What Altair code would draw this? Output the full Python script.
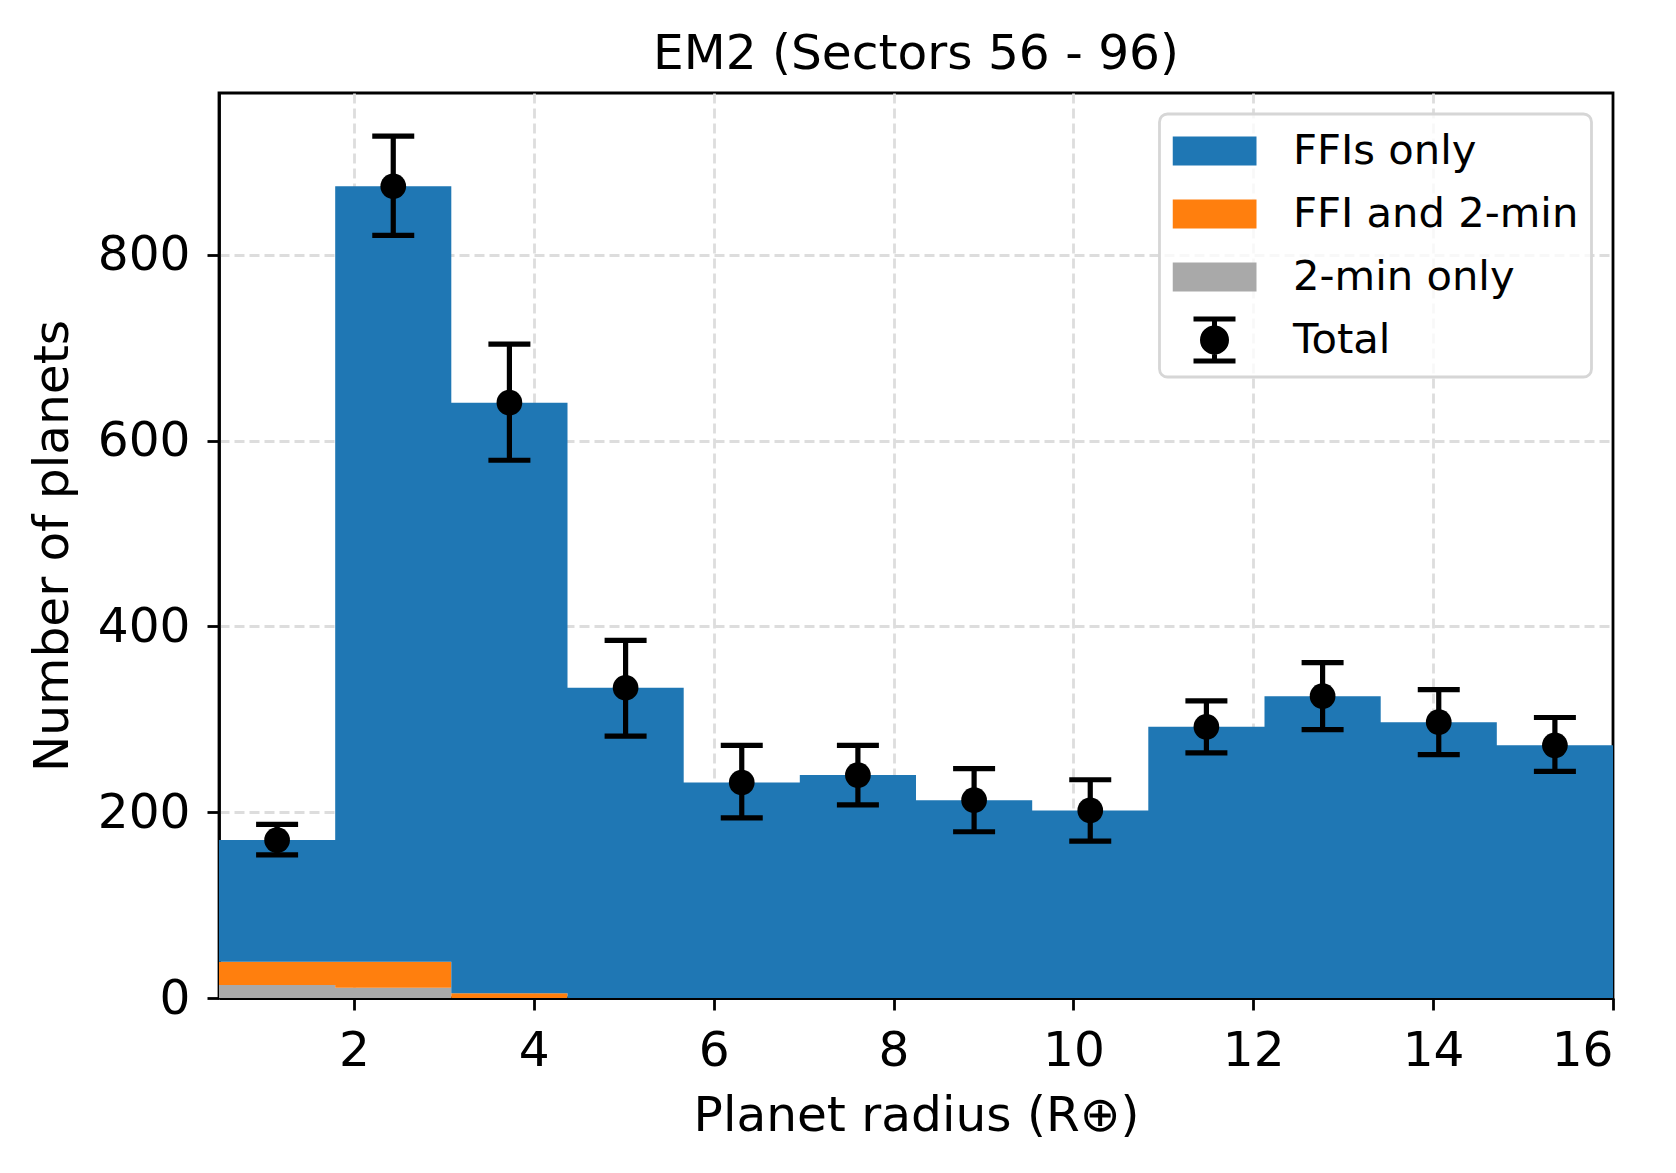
import altair as alt
import pandas as pd

# ---- data ----
bin_lo = [0.5, 1.792, 3.083, 4.375, 5.667, 6.958, 8.25, 9.542, 10.833, 12.125, 13.417, 14.708]
bin_hi = [1.792, 3.083, 4.375, 5.667, 6.958, 8.25, 9.542, 10.833, 12.125, 13.417, 14.708, 16.0]

ffi_only = [131, 835, 636, 334, 232, 240, 213, 202, 292, 325, 297, 272]
ffi_and_2min = [25, 28, 5, 0, 0, 0, 0, 0, 0, 0, 0, 0]
two_min_only = [14, 11, 0, 0, 0, 0, 0, 0, 0, 0, 0, 0]

err_up = [17, 54, 63, 51, 40, 32, 34, 33, 28, 36, 35, 30]
err_dn = [16, 53, 62, 52, 38, 32, 34, 33, 28, 36, 35, 28]

series_names = ["FFIs only", "FFI and 2-min", "2-min only", "Total"]
series_colors = ["#1f77b4", "#ff7f0e", "#a9a9a9", "#000000"]
x_ticks = [2, 4, 6, 8, 10, 12, 14, 16]
y_ticks = [0, 200, 400, 600, 800]

# ---- tables ----
# step outline: one row per bin edge (the final edge repeats the last bin's value)
edges = bin_lo + [bin_hi[-1]]
rows = []
for i in range(len(edges)):
    j = min(i, len(bin_lo) - 1)
    for name, vals, order in [("2-min only", two_min_only, 0),
                              ("FFI and 2-min", ffi_and_2min, 1),
                              ("FFIs only", ffi_only, 2)]:
        rows.append({"edge": edges[i], "series": name, "n": vals[j], "ord": order})
hist_df = pd.DataFrame(rows)

pts = []
for i in range(len(bin_lo)):
    tot = ffi_only[i] + ffi_and_2min[i] + two_min_only[i]
    pts.append({"x": (bin_lo[i] + bin_hi[i]) / 2, "total": tot,
                "low": tot - err_dn[i], "high": tot + err_up[i], "series": "Total"})
pts_df = pd.DataFrame(pts)

FONT = "DejaVu Sans"
FS = 48.6
LFS = 41.7

xscale = alt.Scale(domain=[0.5, 16], nice=False, zero=False)
yscale = alt.Scale(domain=[0, 974.4], nice=False, zero=False)

x_axis = alt.Axis(values=x_ticks, format="d", title="Planet radius (R⊕)",
                  labelPadding=17, titlePadding=18,
                  gridColor=alt.condition("datum.value >= 16", alt.value("transparent"),
                                          alt.value("#dddddd")))
y_axis = alt.Axis(values=y_ticks, format="d", title="Number of planets",
                  labelPadding=17, titlePadding=20)

total_shape = ("M-0.6,0A0.6,0.6,0,1,1,0.6,0A0.6,0.6,0,1,1,-0.6,0Z"
               "M0,-1.05V1.05M-1.05,-1.05H1.05M-1.05,1.05H1.05")
rect_shape = "M-2.1,-0.725H2.1V0.725H-2.1Z"

legend = alt.Legend(
    title=None, orient="none", legendX=940.5, legendY=21,
    padding=13, rowPadding=15, clipHeight=48, symbolSize=1600, symbolStrokeWidth=5,
    symbolOpacity=1, symbolOffset=19.5, labelOffset=56, labelFontSize=LFS,
    labelFont=FONT, labelColor="black", labelLimit=500,
    fillColor="rgba(255,255,255,0.8)", strokeColor="#d6d6d6", cornerRadius=8,
)

color = alt.Color("series:N", scale=alt.Scale(domain=series_names, range=series_colors),
                  legend=legend)
shape = alt.Shape("series:N", scale=alt.Scale(domain=series_names,
                  range=[rect_shape, rect_shape, rect_shape, total_shape]), legend=legend)
stroke = alt.Stroke("series:N", scale=alt.Scale(domain=series_names,
                    range=["transparent", "transparent", "transparent", "#000000"]),
                    legend=legend)

hist = alt.Chart(hist_df).transform_stack(
    stack="n", groupby=["edge"], sort=[alt.SortField("ord")], as_=["y0", "y1"]
).mark_area(interpolate="step-after", opacity=1).encode(
    x=alt.X("edge:Q", scale=xscale, axis=x_axis),
    y=alt.Y("y0:Q", scale=yscale, axis=y_axis),
    y2="y1:Q",
    color=color,
)

rules = alt.Chart(pts_df).mark_rule(color="black", strokeWidth=5.2, opacity=1).encode(
    x="x:Q", y="low:Q", y2="high:Q")
cap_lo = alt.Chart(pts_df).mark_tick(orient="horizontal", size=42, thickness=5.2,
                                     color="black", opacity=1).encode(x="x:Q", y="low:Q")
cap_hi = alt.Chart(pts_df).mark_tick(orient="horizontal", size=42, thickness=5.2,
                                     color="black", opacity=1).encode(x="x:Q", y="high:Q")
points = alt.Chart(pts_df).mark_point(filled=True, size=660, opacity=1).encode(
    x="x:Q", y="total:Q", color=color)
# invisible layer that only carries the legend glyph encodings
legend_layer = alt.Chart(pts_df).mark_point(filled=True, opacity=0).encode(
    x="x:Q", y="total:Q", color=color, shape=shape, stroke=stroke)

chart = alt.layer(hist, rules, cap_lo, cap_hi, points, legend_layer).properties(
    width=1394, height=905,
    title=alt.TitleParams("EM2 (Sectors 56 - 96)", fontSize=FS, font=FONT,
                          fontWeight="normal", color="black", anchor="middle",
                          baseline="alphabetic", offset=-25),
    autosize=alt.AutoSizeParams(type="none"),
    padding={"left": 211, "top": 85, "right": 55, "bottom": 160},
).configure_axis(
    labelFont=FONT, labelFontSize=FS, labelColor="black",
    titleFont=FONT, titleFontSize=FS, titleFontWeight="normal", titleColor="black",
    domainColor="black", domainWidth=2.8, tickColor="black", tickWidth=2.8,
    tickSize=12, gridColor="#dddddd", gridDash=[10, 5], gridWidth=2.8,
).configure_legend(strokeWidth=2.8).configure_view(stroke="black", strokeWidth=2.8)

chart.save("out.html", embed_options={"renderer": "svg", "actions": False})
